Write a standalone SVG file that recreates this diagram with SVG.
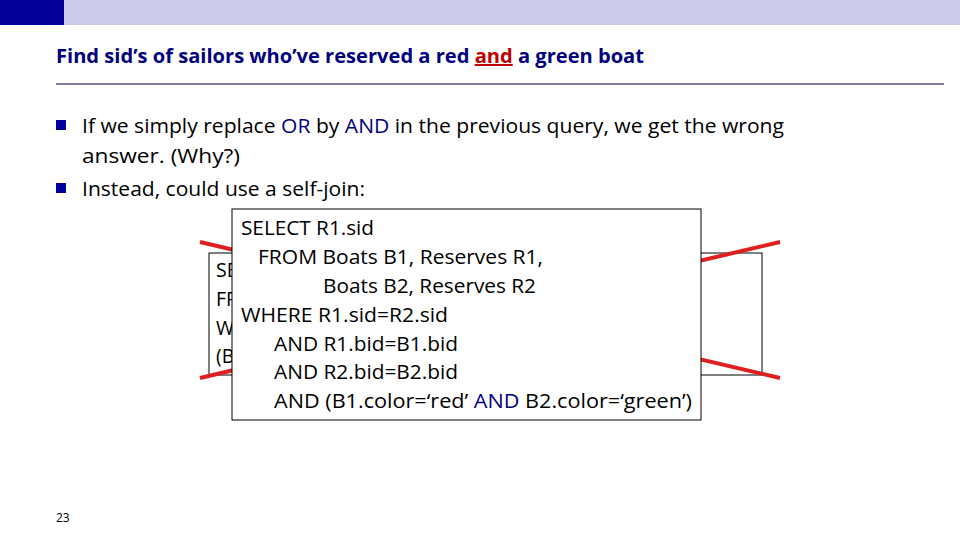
<svg xmlns="http://www.w3.org/2000/svg" width="960" height="540" viewBox="0 0 960 540">
<style>
text{font-family:"Open Sans","Liberation Sans",sans-serif;font-size:20px;fill:#000}
.t{font-weight:bold;fill:#000080;font-size:20px}
.b{fill:#000080}
.c{font-size:19.5px}
</style>
<rect width="960" height="540" fill="#fff"/>
<rect x="0" y="0" width="64" height="25" fill="#000099"/>
<rect x="64" y="0" width="896" height="25" fill="#ccccea"/>
<text x="56" y="63" class="t" textLength="588" lengthAdjust="spacingAndGlyphs">Find sid’s of sailors who’ve reserved a red <tspan fill="#c00000" text-decoration="underline">and</tspan> a green boat</text>
<line x1="56" y1="84" x2="944" y2="84" stroke="#000040" stroke-width="1"/>
<rect x="56" y="120" width="10" height="10" fill="#000099"/>
<rect x="56" y="183" width="10" height="10" fill="#000099"/>
<text x="82" y="133" textLength="702" lengthAdjust="spacingAndGlyphs">If we simply replace <tspan class="b">OR</tspan> by <tspan class="b">AND</tspan> in the previous query, we get the wrong</text>
<text x="82" y="163" textLength="158" lengthAdjust="spacingAndGlyphs">answer.  (Why?)</text>
<text x="82" y="196" textLength="283" lengthAdjust="spacingAndGlyphs">Instead, could use a self-join:</text>
<g id="old-query">
<rect x="209" y="253" width="553" height="122" fill="#fff" stroke="#000" stroke-width="1"/>
<text x="216" y="277" class="c">SE</text>
<text x="216" y="306" class="c">FR</text>
<text x="216" y="335" class="c">W</text>
<text x="216" y="363" class="c">(B</text>
</g>
<g id="cross" stroke="#e02020" stroke-width="4">
<line x1="200" y1="242" x2="780" y2="378"/>
<line x1="200" y1="378" x2="780" y2="242"/>
</g>
<g id="new-query">
<rect x="232" y="209" width="469" height="211" fill="#fff" stroke="#000" stroke-width="1"/>
<text x="241" y="235" class="c" textLength="133" lengthAdjust="spacingAndGlyphs">SELECT R1.sid</text>
<text x="258" y="264" class="c" textLength="285" lengthAdjust="spacingAndGlyphs">FROM Boats B1, Reserves R1,</text>
<text x="323" y="293" class="c" textLength="213" lengthAdjust="spacingAndGlyphs">Boats B2, Reserves R2</text>
<text x="241" y="322" class="c" textLength="207" lengthAdjust="spacingAndGlyphs">WHERE R1.sid=R2.sid</text>
<text x="274" y="351" class="c" textLength="184" lengthAdjust="spacingAndGlyphs">AND R1.bid=B1.bid</text>
<text x="274" y="379" class="c" textLength="184" lengthAdjust="spacingAndGlyphs">AND R2.bid=B2.bid</text>
<text x="274" y="408" class="c" textLength="418" lengthAdjust="spacingAndGlyphs">AND (B1.color=‘red’ <tspan class="b">AND</tspan> B2.color=‘green’)</text>
</g>
<text x="56" y="522" style="font-size:12px">23</text>
</svg>
